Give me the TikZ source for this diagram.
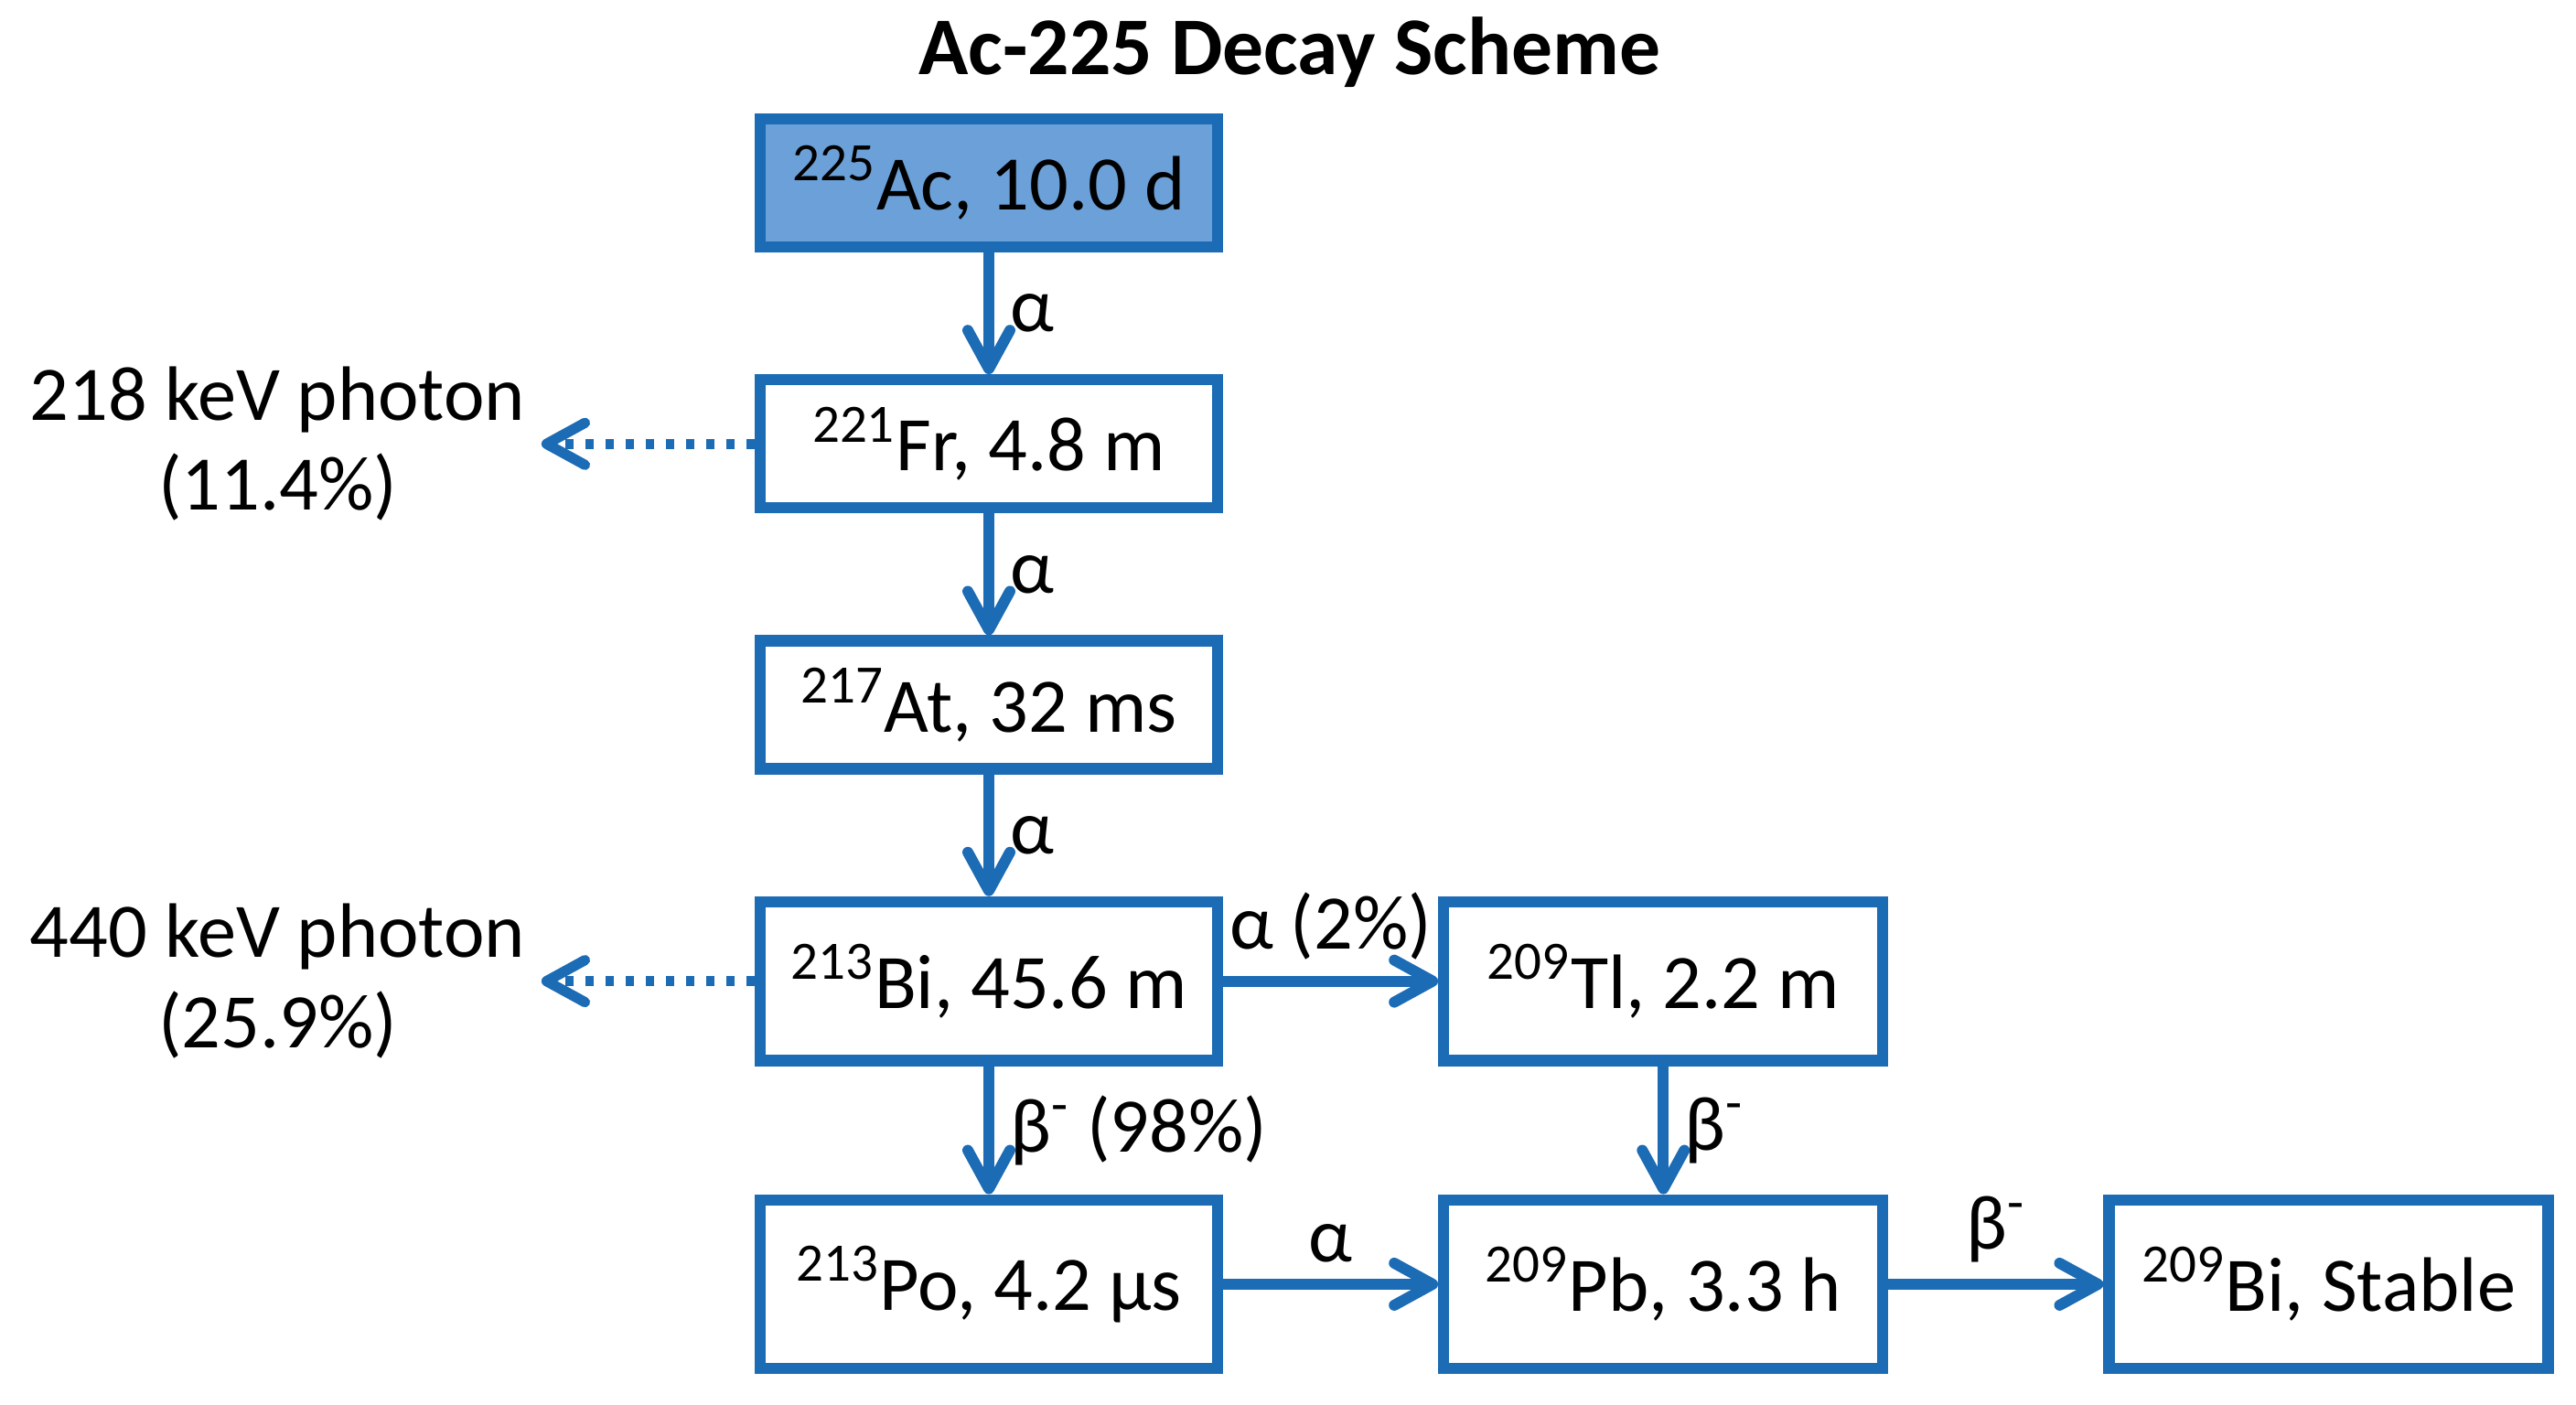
\documentclass[tikz,border=0pt]{standalone}
\usepackage{fontspec}
\setmainfont{Carlito}
\usepackage{tikz}
\usetikzlibrary{arrows.meta,positioning}
\definecolor{decayblue}{RGB}{28,107,181}
\definecolor{acfill}{RGB}{107,160,216}
\tikzset{
    every node/.style={font=\fontsize{24}{28}\selectfont},
    iso node/.style={draw=decayblue,line width=3.5pt,minimum width=5cm,minimum height=1.4cm,align=center},
    side node/.style={iso node,minimum width=4.8cm},
    decay/.style={draw=decayblue},
    decay label/.style={inner sep=0.5em},
    photon/.style={decay,line width=3.2pt,dash pattern=on 0.09cm off 0.13cm}
}

\begin{document}
\begin{tikzpicture}[->,>={Straight Barb[round,length=0.42cm,width=0.46cm]},line width=3.4pt,auto,node distance=1.33cm and 2.35cm]
    \useasboundingbox (0,0) rectangle (28.16,15.36);
    \node[anchor=base,font=\fontsize{25.5}{30}\selectfont\bfseries] (t) at (14.10,14.54) {Ac-225 Decay Scheme};

        \node[iso node,fill=acfill] (1) at (10.81,13.36) {\textsuperscript{225}Ac, 10.0 d};
        \node[iso node] (2) [below =of 1]{\textsuperscript{221}Fr, 4.8 m};
        \node[iso node] (3) [below =of 2]{\textsuperscript{217}At, 32 ms};
        \node[iso node,minimum height=1.735cm] (4) [below =of 3]{\textsuperscript{213}Bi, 45.6 m};
        \node[side node,minimum height=1.735cm] (5) [right =of 4]{\textsuperscript{209}Tl, 2.2 m};
        \node[iso node,minimum height=1.845cm] (6) [below =1.4cm of 4]{\textsuperscript{213}Po, 4.2 µs};
        \node[side node,minimum height=1.845cm] (7) [right =of 6]{\textsuperscript{209}Pb, 3.3 h};
        \node[side node,minimum height=1.845cm] (8) [right =of 7]{\textsuperscript{209}Bi, Stable};

        \draw[decay] (1) -- node[decay label]{α} (2);
        \draw[decay] (2) -- node[decay label]{α} (3);
        \draw[decay] (3) -- node[decay label]{α} (4);
        \draw[decay] (4) -- node[decay label]{α (2\%)} (5);
        \draw[decay] (4) -- node[decay label]{β\textsuperscript{-} (98\%)} (6);
        \draw[decay] (5) -- node[decay label]{β\textsuperscript{-}} (7);
        \draw[decay] (6) -- node[decay label]{α} (7);
        \draw[decay] (7) -- node[decay label]{β\textsuperscript{-}} (8);

        % gamma lines
        \coordinate[left=2.33cm of 2] (p1);
        \coordinate[left=2.33cm of 4] (p2);
        \draw[photon] (2) -- (p1);
        \draw[photon] (4) -- (p2);
        \node[left=0pt of p1,align=center] (l1) {218 keV photon\\(11.4\%)};
        \node[left=0pt of p2,align=center] (l2) {440 keV photon\\(25.9\%)};
      \end{tikzpicture}
\end{document}
